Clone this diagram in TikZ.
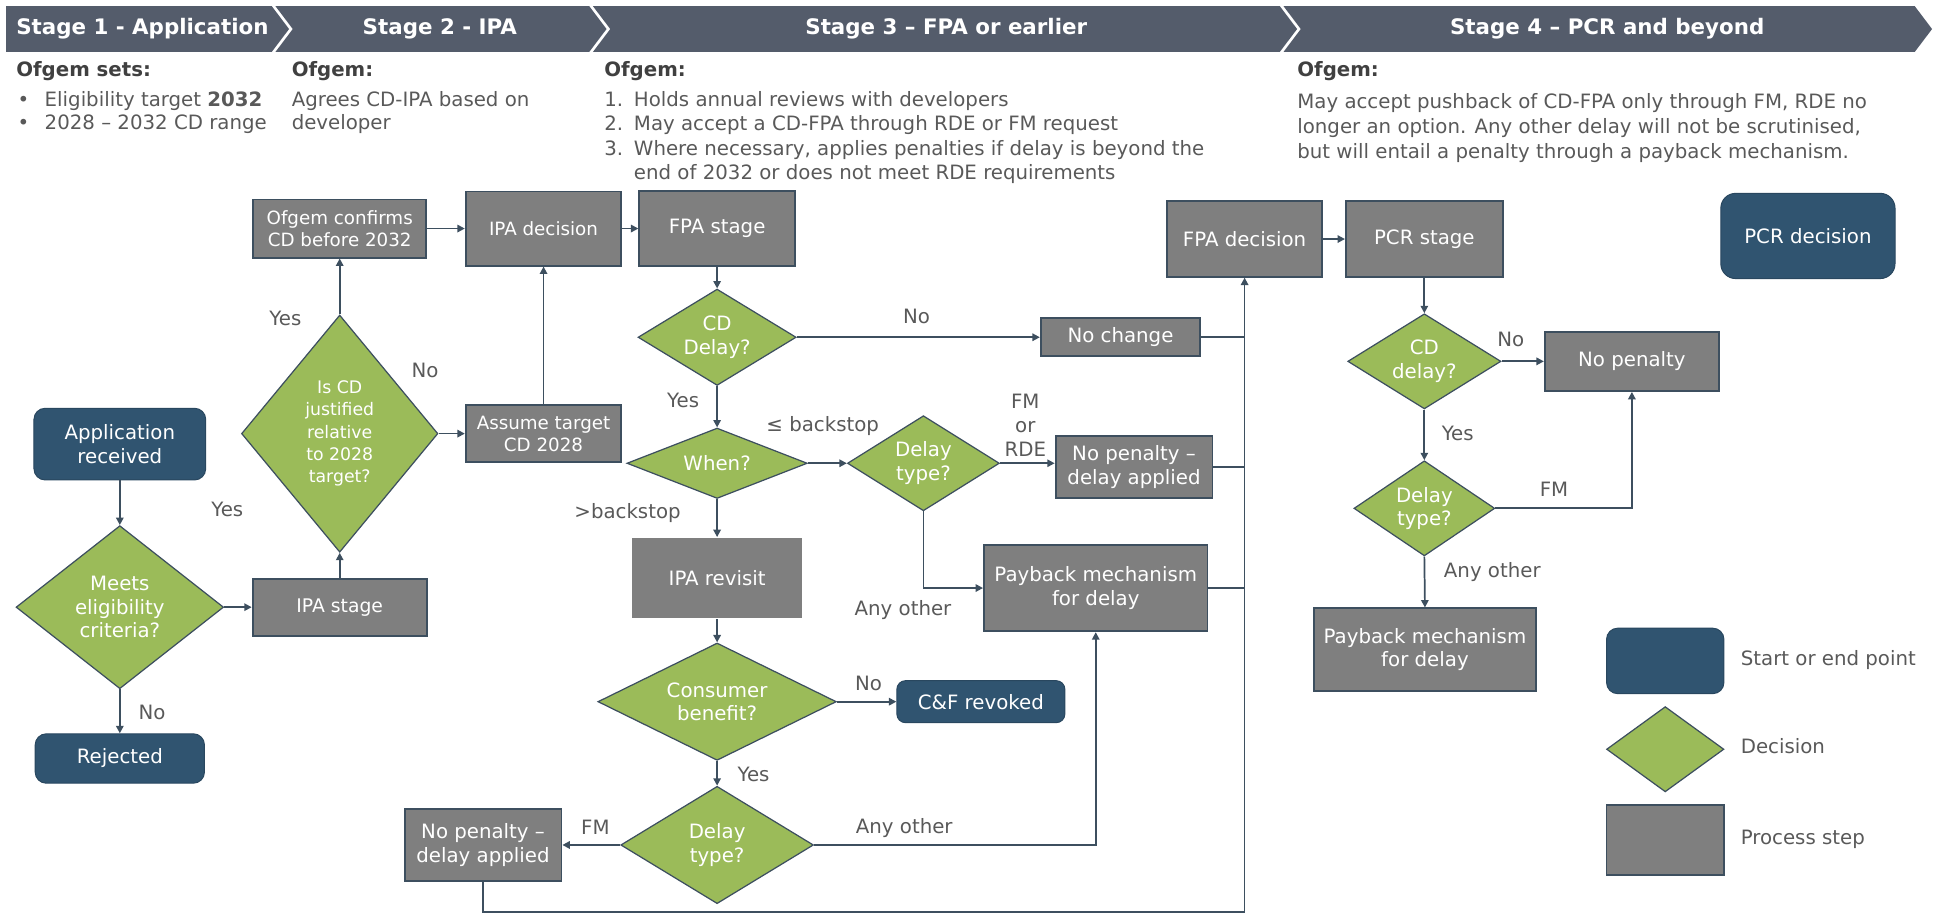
\documentclass[tikz,border=0pt]{standalone}
\usepackage{fontspec}
\setmainfont{DejaVu Sans}
\usetikzlibrary{shapes.geometric,arrows.meta}
\definecolor{bannerc}{HTML}{545C6B}
\definecolor{startc}{HTML}{305470}
\definecolor{decc}{HTML}{9BBB59}
\definecolor{procc}{HTML}{7F7F7F}
\definecolor{edgec}{HTML}{3D4F5F}
\definecolor{txtc}{HTML}{595959}
\definecolor{headc}{HTML}{404040}
\tikzset{
  nfont/.style={font=\fontsize{16}{19}\selectfont},
  sfont/.style={font=\fontsize{14.8}{18}\selectfont},
  startnode/.style={nfont, align=center, inner sep=2pt, fill=startc, draw=startc!85!black, line width=0.8pt, rounded corners=9pt, text=white},
  procnode/.style={nfont, align=center, inner sep=2pt, fill=procc, draw=edgec, line width=1.5pt, text=white},
  decnode/.style={diamond, fill=decc, draw=edgec, line width=1pt, inner sep=0pt},
  dectext/.style={nfont, text=white, align=center, inner sep=0pt},
  conn/.style={draw=edgec, line width=1.4pt, -{Triangle[length=6pt,width=6pt]}},
  joinline/.style={draw=edgec, line width=1.4pt},
  lbl/.style={nfont, text=txtc, inner sep=0pt, align=center},
  hdr/.style={text=white, font=\bfseries\fontsize{17.3}{20}\selectfont, inner sep=0pt},
  body/.style={text=txtc, font=\fontsize{16}{20}\selectfont, anchor=west, inner sep=0pt, text height=11.5pt, text depth=3.5pt},
  bodyb/.style={body, text=headc, font=\bfseries\fontsize{16}{20}\selectfont},
  legtxt/.style={body}
}
\begin{document}
\begin{tikzpicture}[x=1pt,y=-1pt]
\useasboundingbox (0,0) rectangle (1568,740);
% ---------- banner ----------
\fill[bannerc] (5,5) -- (220,5) -- (234,23.5) -- (220,42) -- (5,42) -- cycle;
\fill[bannerc] (223,5) -- (477,5) -- (491,23.5) -- (477,42) -- (223,42) -- (237,23.5) -- cycle;
\fill[bannerc] (480,5) -- (1036,5) -- (1050,23.5) -- (1036,42) -- (480,42) -- (494,23.5) -- cycle;
\fill[bannerc] (1039,5) -- (1550,5) -- (1564,23.5) -- (1550,42) -- (1039,42) -- (1053,23.5) -- cycle;
\node[hdr, anchor=west] (h1) at (13,23.5) {Stage 1 - Application};
\node[hdr] (h2) at (356,23.5) {Stage 2 - IPA};
\node[hdr] (h3) at (766,23.5) {Stage 3 – FPA or earlier};
\node[hdr] (h4) at (1301,23.5) {Stage 4 – PCR and beyond};
% ---------- stage texts ----------
\node[bodyb] (c1t) at (13,58) {Ofgem sets:};
\node[body] (c1b1) at (13,82) {\makebox[23pt][l]{\hspace{1pt}•}Eligibility target \textbf{2032}};
\node[body] (c1b2) at (13,101) {\makebox[23pt][l]{\hspace{1pt}•}2028 – 2032 CD range};
\node[bodyb] (c2t) at (236,58) {Ofgem:};
\node[body] (c2a) at (236,82) {Agrees CD-IPA based on};
\node[body] (c2b) at (236,101) {developer};
\node[bodyb] (c3t) at (489,58) {Ofgem:};
\node[body] (c3a) at (489,82) {\makebox[24pt][l]{1.}Holds annual reviews with developers};
\node[body] (c3b) at (489,101.5) {\makebox[24pt][l]{2.}May accept a CD-FPA through RDE or FM request};
\node[body] (c3c) at (489,121.5) {\makebox[24pt][l]{3.}Where necessary, applies penalties if delay is beyond the};
\node[body] (c3d) at (489,141) {\makebox[24pt][l]{}end of 2032 or does not meet RDE requirements};
\node[bodyb] (c4t) at (1050,58) {Ofgem:};
\node[body] (c4a) at (1050,84) {May accept pushback of CD-FPA only through FM, RDE no};
\node[body] (c4b) at (1050,104) {longer an option. Any other delay will not be scrutinised,};
\node[body] (c4c) at (1050,124) {but will entail a penalty through a payback mechanism.};
% ---------- stage 1 ----------
\node[startnode, minimum width=139pt, minimum height=58pt] (appRec) at (97,359.5) {Application\\received};
\node[decnode, minimum width=168pt, minimum height=132pt, label={[dectext]center:{Meets\\eligibility\\criteria?}}] (meets) at (97,491.5) {};
\node[startnode, minimum width=137pt, minimum height=40pt] (rejected) at (97,614) {Rejected};
\node[procnode, minimum width=141pt, minimum height=46pt, font=\fontsize{15.2}{18}\selectfont] (ipaStage) at (275,491.5) {IPA stage};
% ---------- stage 2 ----------
\node[decnode, minimum width=159pt, minimum height=192pt, label={[dectext, font=\fontsize{14}{18}\selectfont]center:{Is CD\\justified\\relative\\to 2028\\target?}}] (isCD) at (275,351) {};
\node[procnode, sfont, minimum width=140pt, minimum height=47pt] (ofgemConf) at (275,185) {Ofgem confirms\\CD before 2032};
\node[procnode, sfont, minimum width=126pt, minimum height=46pt] (assume) at (440,351) {Assume target\\CD 2028};
\node[procnode, sfont, minimum width=126pt, minimum height=60pt] (ipaDec) at (440,185) {IPA decision};
% ---------- stage 3 ----------
\node[procnode, minimum width=126pt, minimum height=61pt] (fpaStage) at (580.5,185) {FPA stage};
\node[decnode, minimum width=128pt, minimum height=78pt, label={[dectext]center:{CD\\Delay?}}] (cdDelay) at (580.5,273) {};
\node[procnode, minimum width=129pt, minimum height=31pt] (noChange) at (907,273) {No change};
\node[decnode, minimum width=146pt, minimum height=57pt, label={[dectext]center:{When?}}] (when) at (580.5,375) {};
\node[decnode, minimum width=123pt, minimum height=77pt, label={[dectext]center:{Delay\\type?}}] (delayT1) at (747.5,375) {};
\node[procnode, minimum width=127pt, minimum height=50pt] (noPen1) at (918,378) {No penalty –\\delay applied};
\node[procnode, draw=none, minimum width=137pt, minimum height=65pt] (ipaRev) at (580.5,468) {IPA revisit};
\node[procnode, minimum width=181pt, minimum height=70pt] (payback1) at (887,476) {Payback mechanism\\for delay};
\node[decnode, minimum width=193pt, minimum height=95pt, label={[dectext]center:{Consumer\\benefit?}}] (consumer) at (580.5,568) {};
\node[startnode, minimum width=136pt, minimum height=34pt, rounded corners=7pt] (cfRev) at (794,568) {C\&F revoked};
\node[decnode, minimum width=156pt, minimum height=95pt, label={[dectext]center:{Delay\\type?}}] (delayT2) at (580.5,684) {};
\node[procnode, minimum width=127pt, minimum height=58pt] (noPen2) at (391,684) {No penalty –\\delay applied};
\node[procnode, minimum width=125pt, minimum height=61pt] (fpaDec) at (1007.5,193.5) {FPA decision};
% ---------- stage 4 ----------
\node[procnode, minimum width=127pt, minimum height=62pt] (pcrStage) at (1153,193.5) {PCR stage};
\node[startnode, minimum width=141pt, minimum height=69pt, rounded corners=12pt] (pcrDec) at (1463.5,191) {PCR decision};
\node[decnode, minimum width=124pt, minimum height=77pt, label={[dectext]center:{CD\\delay?}}] (cdDelay4) at (1153,292.5) {};
\node[procnode, minimum width=141pt, minimum height=48pt] (noPen4) at (1321,292.5) {No penalty};
\node[decnode, minimum width=114pt, minimum height=77pt, label={[dectext]center:{Delay\\type?}}] (delayT4) at (1153,411.5) {};
\node[procnode, minimum width=180pt, minimum height=67pt] (payback4) at (1153.5,526) {Payback mechanism\\for delay};
% ---------- legend ----------
\node[startnode, minimum width=95pt, minimum height=53pt, rounded corners=9pt] (legStart) at (1348,535) {};
\node[decnode, minimum width=95pt, minimum height=69pt] (legDec) at (1348,606.5) {};
\node[procnode, minimum width=95pt, minimum height=57pt] (legProc) at (1348,680) {};
\node[legtxt] (legStartT) at (1409,534.5) {Start or end point};
\node[legtxt] (legDecT) at (1409,606) {Decision};
\node[legtxt] (legProcT) at (1409,679.5) {Process step};
% ---------- connectors ----------
\coordinate (bot) at (0,738);
\draw[conn] (appRec.south) -- (meets.north);
\draw[conn] (meets.south) -- (rejected.north);
\draw[conn] (meets.east) -- (ipaStage.west);
\draw[conn] (ipaStage.north) -- (isCD.south);
\draw[conn] (isCD.north) -- (ofgemConf.south);
\draw[conn] (isCD.east) -- (assume.west);
\draw[conn] (assume.north) -- (ipaDec.south);
\draw[conn] (ofgemConf.east) -- (ipaDec.west);
\draw[conn] (ipaDec.east) -- (fpaStage.west);
\draw[conn] (fpaStage.south) -- (cdDelay.north);
\draw[conn] (cdDelay.east) -- (noChange.west);
\draw[conn] (cdDelay.south) -- (when.north);
\draw[conn] (when.east) -- (delayT1.west);
\draw[conn] (delayT1.east) -- (delayT1.east -| noPen1.west);
\draw[conn] (delayT1.south) |- (payback1.west);
\draw[conn] (when.south) -- (ipaRev.north);
\draw[conn] (ipaRev.south) -- (consumer.north);
\draw[conn] (consumer.east) -- (cfRev.west);
\draw[conn] (consumer.south) -- (delayT2.north);
\draw[conn] (delayT2.west) -- (noPen2.east);
\draw[conn] (delayT2.east) -| (payback1.south);
\draw[conn] (noPen2.south) -- (noPen2.south |- bot) -| (fpaDec.south);
\draw[joinline] (noChange.east) -- (noChange.east -| fpaDec.south);
\draw[joinline] (noPen1.east) -- (noPen1.east -| fpaDec.south);
\draw[joinline] (payback1.east) -- (payback1.east -| fpaDec.south);
\draw[conn] (fpaDec.east) -- (pcrStage.west);
\draw[conn] (pcrStage.south) -- (cdDelay4.north);
\draw[conn] (cdDelay4.east) -- (noPen4.west);
\draw[conn] (cdDelay4.south) -- (delayT4.north);
\draw[conn] (delayT4.east) -| (noPen4.south);
\draw[conn] (delayT4.south) -- (payback4.north);
% ---------- connector labels ----------
\node[lbl] (l1) at (184,412) {Yes};
\node[lbl] (l2) at (123,577) {No};
\node[lbl] (l3) at (231,258) {Yes};
\node[lbl] (l4) at (344,300) {No};
\node[lbl] (l5) at (742,256) {No};
\node[lbl] (l6) at (553,324) {Yes};
\node[lbl] (l7) at (666,345) {≤ backstop};
\node[lbl] (l8) at (508,415) {>backstop};
\node[lbl, font=\fontsize{16}{19.5}\selectfont] (l9) at (830,344) {FM\\or\\RDE};
\node[lbl] (l10) at (731,494) {Any other};
\node[lbl] (l11) at (703,553) {No};
\node[lbl] (l12) at (610,627) {Yes};
\node[lbl] (l13) at (482,670) {FM};
\node[lbl] (l14) at (732,670) {Any other};
\node[lbl] (l15) at (1223,275) {No};
\node[lbl] (l16) at (1180,351) {Yes};
\node[lbl] (l17) at (1258,396) {FM};
\node[lbl] (l18) at (1208,463) {Any other};
\end{tikzpicture}
\end{document}
